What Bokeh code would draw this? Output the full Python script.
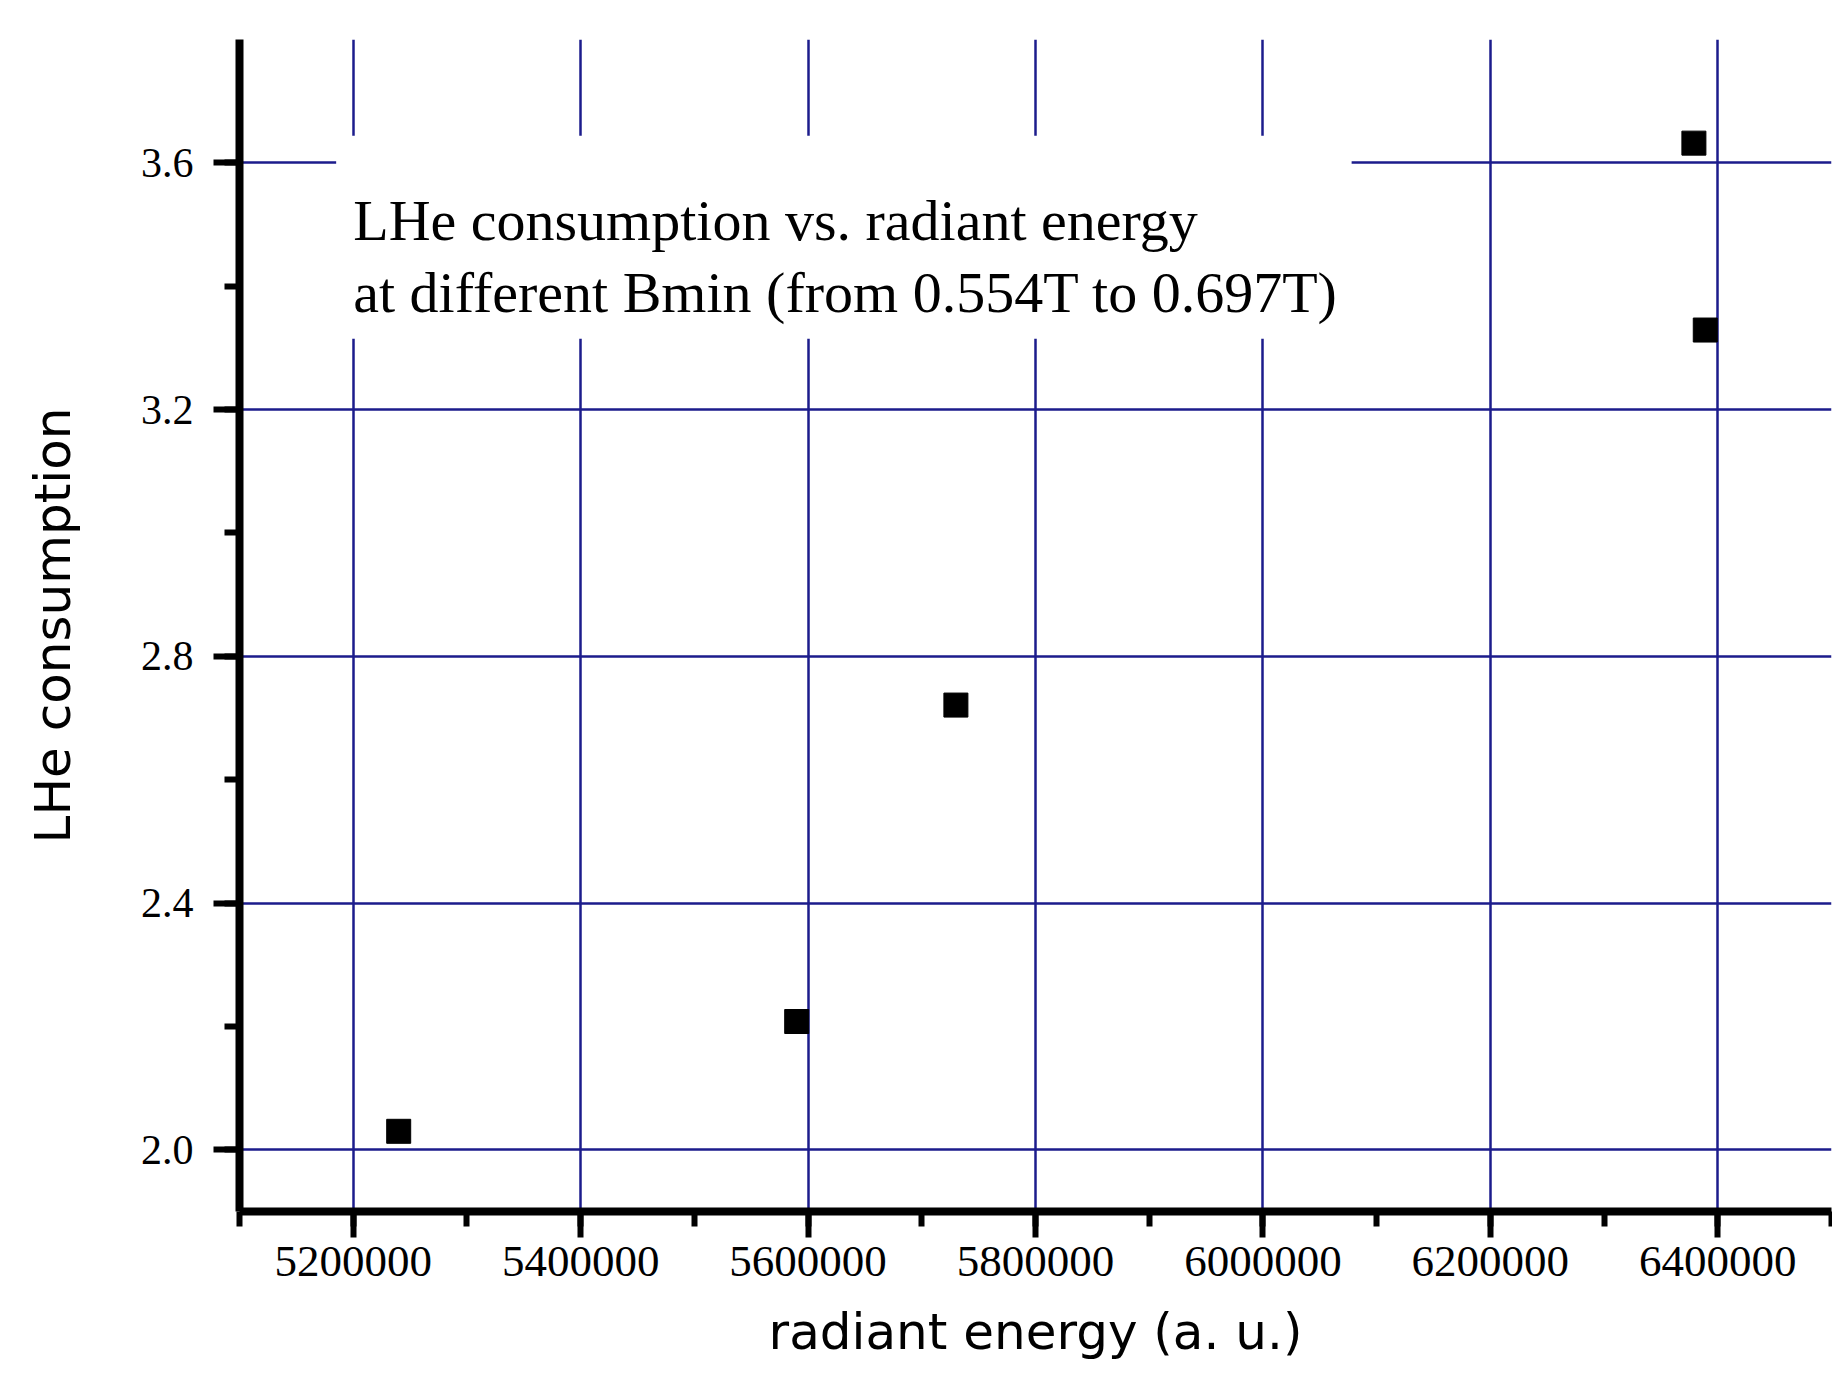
from bokeh.plotting import figure
from bokeh.models import (SingleIntervalTicker, PrintfTickFormatter, BoxAnnotation,
                          Label, Range1d, ColumnDataSource)
from bokeh.embed import file_html
from bokeh.resources import INLINE

# ---- data ----
radiant_energy = [5240000, 5590000, 5730000, 6379000, 6389000]
lhe_consumption = [2.030, 2.208, 2.721, 3.632, 3.329]

x_label = "radiant energy (a. u.)"
y_label = "LHe consumption"
note_line1 = "LHe consumption vs. radiant energy"
note_line2 = "at different Bmin (from 0.554T to 0.697T)"

GRID = "#1c1c8c"

p = figure(width=1832, height=1382,
           x_range=Range1d(5100000, 6500000), y_range=Range1d(1.9, 3.8),
           output_backend="svg", toolbar_location=None,
           min_border_left=239, min_border_right=1,
           min_border_top=39, min_border_bottom=171)
p.outline_line_color = None
p.background_fill_color = "white"
p.border_fill_color = "white"

# axes
p.xaxis.ticker = SingleIntervalTicker(interval=200000, num_minor_ticks=2)
p.yaxis.ticker = SingleIntervalTicker(interval=0.4, num_minor_ticks=2)
p.xaxis.formatter = PrintfTickFormatter(format="%d")
p.yaxis.formatter = PrintfTickFormatter(format="%.1f")

for ax in (p.xaxis, p.yaxis):
    ax.axis_line_width = 8
    ax.axis_line_color = "black"
    ax.major_tick_line_width = 6
    ax.minor_tick_line_width = 6
    ax.major_tick_line_color = "black"
    ax.minor_tick_line_color = "black"
    ax.major_tick_in = 0
    ax.minor_tick_in = 0
    ax.major_tick_out = 26
    ax.minor_tick_out = 15
    ax.major_label_text_font = "Liberation Serif"
    ax.major_label_text_color = "black"
    ax.axis_label_text_font = "DejaVu Sans"
    ax.axis_label_text_font_size = "50px"
    ax.axis_label_text_font_style = "normal"
    ax.axis_label_text_color = "black"

p.xaxis.major_label_text_font_size = "45px"
p.yaxis.major_label_text_font_size = "42px"
p.xaxis.major_label_standoff = 9
p.yaxis.major_label_standoff = 20
p.xaxis.axis_label = x_label
p.yaxis.axis_label = y_label
p.xaxis.axis_label_standoff = 24
p.yaxis.axis_label_standoff = 56

# grid
for g in (p.xgrid, p.ygrid):
    g.grid_line_color = GRID
    g.grid_line_width = 2.5

# data points
src = ColumnDataSource(dict(x=radiant_energy, y=lhe_consumption))
p.scatter("x", "y", source=src, marker="square", size=24,
          fill_color="black", line_color="black")

# annotation box with text
box = BoxAnnotation(left=5185000, right=6078000, bottom=3.315, top=3.644,
                    fill_color="white", fill_alpha=1.0, line_alpha=0.0)
p.add_layout(box)
p.add_layout(Label(x=5200000, y=3.5065, text=note_line1,
                   text_font="Liberation Serif", text_font_size="58px",
                   text_baseline="alphabetic", text_align="left",
                   text_color="black"))
p.add_layout(Label(x=5200000, y=3.390, text=note_line2,
                   text_font="Liberation Serif", text_font_size="58px",
                   text_baseline="alphabetic", text_align="left",
                   text_color="black"))

open("out.html", "w").write(file_html(p, INLINE))
